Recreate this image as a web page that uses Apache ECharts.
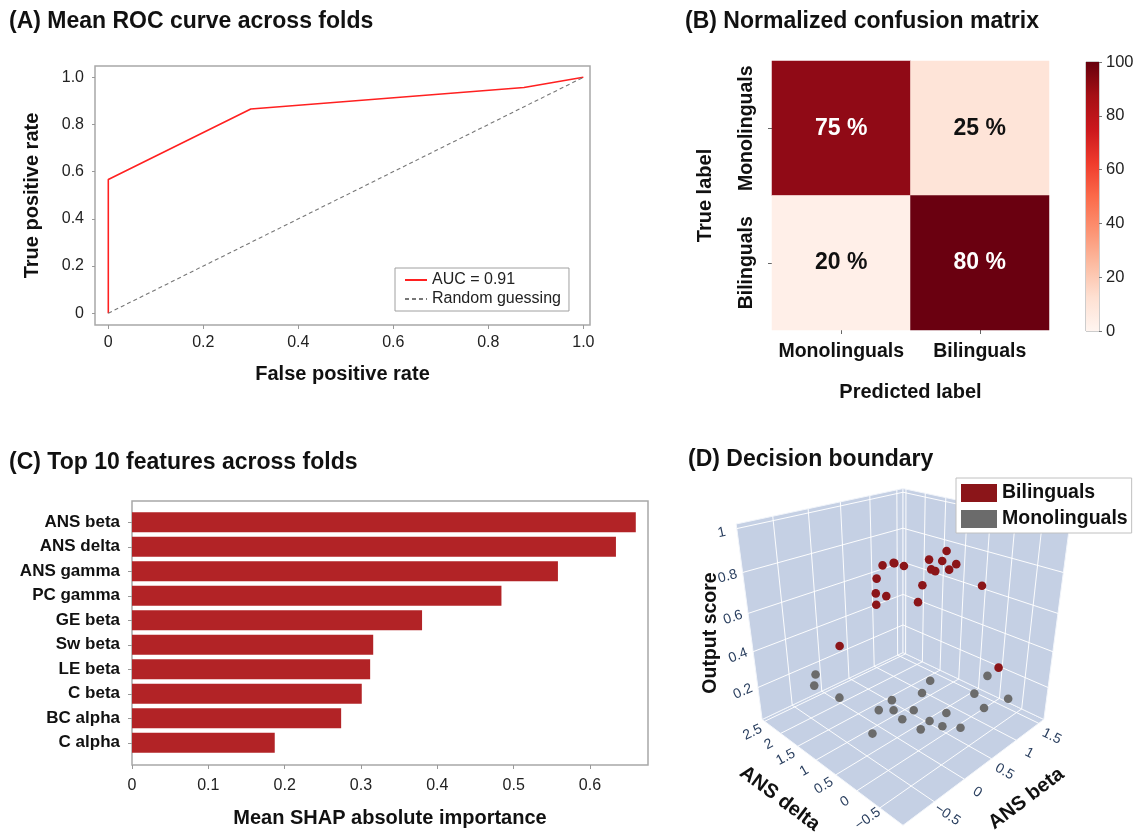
<!DOCTYPE html>
<html>
<head>
<meta charset="utf-8">
<script src="https://cdn.jsdelivr.net/npm/echarts/dist/echarts.min.js"></script>
<style>html,body{margin:0;padding:0;background:#fff}#chart{width:1135px;height:832px}</style>
</head>
<body>
<div id="chart"></div>
<script>
// ---------- (A) ROC ----------
const rocFpr = [0, 0, 0.3, 0.875, 1];
const rocTpr = [0, 0.567, 0.866, 0.957, 1];
const chanceFpr = [0, 1];
const chanceTpr = [0, 1];
const rocTicks = [0, 0.2, 0.4, 0.6, 0.8, 1.0];
// ---------- (B) Confusion matrix ----------
const cmPredicted = ['Monolinguals', 'Bilinguals'];
const cmTrue = ['Monolinguals', 'Bilinguals'];
const cmPercent = [[75, 25], [20, 80]];
const cbTicks = [0, 20, 40, 60, 80, 100];
// ---------- (C) SHAP ----------
const features = ['ANS beta', 'ANS delta', 'ANS gamma', 'PC gamma', 'GE beta', 'Sw beta', 'LE beta', 'C beta', 'BC alpha', 'C alpha'];
const shapImportance = [0.660, 0.634, 0.558, 0.484, 0.380, 0.316, 0.312, 0.301, 0.274, 0.187];
const shapTicks = [0, 0.1, 0.2, 0.3, 0.4, 0.5, 0.6];
// ---------- (D) Decision boundary ----------
const biBeta  = [0.08, -0.03, 0.22, 0.49, -0.02, -0.11, 0.13, -0.12, 0.43, 0.26, 0.59, 0.66, 0.67, 0.63, 0.62, 0.77, 0.69, 0.90, -0.43, 1.21];
const biDelta = [0.91, 0.51, 0.85, 1.01, 0.90, 0.79, 0.91, 0.77, 0.52, 0.39, 0.59, 0.40, 0.33, 0.59, 0.49, 0.38, 0.15, -0.15, 1.18, -0.30];
const biScore = [0.85, 0.90, 0.85, 0.80, 0.80, 0.75, 0.70, 0.70, 0.75, 0.70, 0.85, 0.85, 0.90, 0.80, 0.80, 0.80, 0.85, 0.75, 0.50, 0.30];
const moBeta  = [-0.26, -0.32, -0.27, 0.53, 0.40, 0.16, 0.02, 0.02, 0.33, 0.09, -0.48, 0.30, -0.03, 0.33, 0.43, 0.46, 0.85, 1.13, 0.84, 1.05];
const moDelta = [2.23, 2.18, 1.55, 0.43, 0.45, 0.85, 0.98, 0.61, 0.55, 0.50, 0.38, 0.14, -0.08, -0.11, -0.07, -0.35, -0.19, -0.16, -0.42, -0.69];
const moScore = [0.20, 0.15, 0.15, 0.25, 0.20, 0.15, 0.10, 0.15, 0.10, 0.10, 0.15, 0.10, 0.15, 0.10, 0.15, 0.10, 0.20, 0.25, 0.15, 0.20];
const betaTicks = [-0.5, 0, 0.5, 1, 1.5];
const deltaTicks = [-0.5, 0, 0.5, 1, 1.5, 2, 2.5];
const scoreTicks = [0.2, 0.4, 0.6, 0.8, 1];
const betaRange = [-0.97, 1.62];
const deltaRange = [-0.97, 2.58];
const scoreRange = [0.01, 1.02];

const FONT = "'Liberation Sans', Arial, sans-serif";
const INK = '#111';

// 3D view (camera) used to project the scene of panel D
const VIEW = {cx: 903, cy: 630, f: 561.6, dist: 2.6, sin: 0.439, cos: 0.8985};
function norm(val, range) { return (val - range[0]) / (range[1] - range[0]) - 0.5; }
function projN(u, v, w) {
  const k = Math.SQRT1_2, S = u + v, Dm = u - v;
  const depth = VIEW.dist + k * VIEW.cos * S - VIEW.sin * w;
  return [VIEW.cx + VIEW.f * k * Dm / depth, VIEW.cy - VIEW.f * (k * VIEW.sin * S + VIEW.cos * w) / depth, depth];
}
function proj3(b, d, z) { return projN(norm(b, betaRange), norm(d, deltaRange), norm(z, scoreRange)); }

function renderScene(params, api) {
  const kids = [];
  const P = (u, v, w) => projN(u, v, w);
  const wallStyle = {fill: '#c5d0e4', stroke: '#f2f5fa', lineWidth: 1};
  const face = pts => kids.push({type: 'polygon', shape: {points: pts.map(q => P(q[0], q[1], q[2]).slice(0, 2))}, style: wallStyle});
  face([[-.5, -.5, -.5], [.5, -.5, -.5], [.5, .5, -.5], [-.5, .5, -.5]]);
  face([[-.5, .5, -.5], [.5, .5, -.5], [.5, .5, .5], [-.5, .5, .5]]);
  face([[.5, -.5, -.5], [.5, .5, -.5], [.5, .5, .5], [.5, -.5, .5]]);
  const seg = (a, b) => {
    const p = P(a[0], a[1], a[2]), q = P(b[0], b[1], b[2]);
    kids.push({type: 'line', shape: {x1: p[0], y1: p[1], x2: q[0], y2: q[1]}, style: {stroke: '#ffffff', lineWidth: 1, opacity: 0.95}});
  };
  betaTicks.forEach(t => { const u = norm(t, betaRange); seg([u, -.5, -.5], [u, .5, -.5]); seg([u, .5, -.5], [u, .5, .5]); });
  deltaTicks.forEach(t => { const v = norm(t, deltaRange); seg([-.5, v, -.5], [.5, v, -.5]); seg([.5, v, -.5], [.5, v, .5]); });
  scoreTicks.forEach(t => { const w = norm(t, scoreRange); seg([-.5, .5, w], [.5, .5, w]); seg([.5, -.5, w], [.5, .5, w]); });
  const dirAngle = (a, b) => { const p = P(a[0], a[1], a[2]), q = P(b[0], b[1], b[2]); return Math.atan2(-(q[1] - p[1]), q[0] - p[0]); };
  const txt = (s, pt, dx, dy, rot, size, weight, color) => kids.push({
    type: 'text', x: pt[0] + dx, y: pt[1] + dy, rotation: rot,
    style: {text: s, fill: color, fontSize: size, fontWeight: weight, fontFamily: FONT, align: 'center', verticalAlign: 'middle'}
  });
  const fmt = t => t < 0 ? '\u2212' + Math.abs(t) : String(t);
  scoreTicks.forEach(t => { const w = norm(t, scoreRange); txt(fmt(t), P(-.5, .5, w), -15, 4, dirAngle([-.5, .5, w], [-.4, .5, w]), 14, 'normal', '#2a3f5f'); });
  deltaTicks.forEach(t => { const v = norm(t, deltaRange); txt(fmt(t), P(-.5, v, -.5), -12, 11, dirAngle([-.5, v, -.5], [-.4, v, -.5]), 14, 'normal', '#2a3f5f'); });
  betaTicks.forEach(t => { const u = norm(t, betaRange); txt(fmt(t), P(u, -.5, -.5), 13, 13, dirAngle([u, -.4, -.5], [u, -.5, -.5]), 14, 'normal', '#2a3f5f'); });
  txt('ANS delta', P(-.5, 0, -.5), -44, 33, dirAngle([-.5, .5, -.5], [-.5, -.5, -.5]), 20, 'bold', INK);
  txt('ANS beta', P(0, -.5, -.5), 44, 33, dirAngle([-.5, -.5, -.5], [.5, -.5, -.5]), 20, 'bold', INK);
  txt('Output score', P(-.5, .5, 0), -40, 3, Math.PI / 2, 19.5, 'bold', INK);
  return {type: 'group', children: kids};
}
function renderPoint(params, api) {
  const p = proj3(api.value(0), api.value(1), api.value(2));
  return {type: 'circle', shape: {cx: p[0], cy: p[1], r: 4.3}, style: {fill: api.visual('color')}, z2: Math.round((5 - p[2]) * 100)};
}

const chart = echarts.init(document.getElementById('chart'), null, {renderer: 'canvas'});
const titleStyle = {fontSize: 23, fontWeight: 'bold', color: INK, fontFamily: FONT};
const tickLabel = {fontSize: 16, color: '#222', fontFamily: FONT};
const nameStyle = {fontSize: 20, fontWeight: 'bold', color: INK, fontFamily: FONT};
const fmtTick = v => v === 0 ? '0' : v.toFixed(1);
const noLine = {show: false, onZero: false};

const option = {
  animation: false,
  textStyle: {fontFamily: FONT},
  title: [
    {text: '(A) Mean ROC curve across folds', left: 9, top: 10, padding: 0, textStyle: titleStyle},
    {text: '(B) Normalized confusion matrix', left: 685, top: 10, padding: 0, textStyle: titleStyle},
    {text: '(C) Top 10 features across folds', left: 9, top: 451, padding: 0, textStyle: titleStyle},
    {text: '(D) Decision boundary', left: 688, top: 448, padding: 0, textStyle: titleStyle}
  ],
  legend: [
    {data: ['AUC = 0.91', 'Random guessing'], left: 395, top: 268, orient: 'vertical', itemWidth: 22, itemHeight: 12,
     itemGap: 3, padding: [4, 8, 4, 9], borderColor: '#a0a0a0', borderWidth: 1, backgroundColor: '#fff',
     itemStyle: {opacity: 0, borderWidth: 0},
     textStyle: {fontSize: 16, color: '#222'}, selectedMode: false},
    {data: ['Bilinguals', 'Monolinguals'], left: 956, top: 478, orient: 'vertical', icon: 'rect', itemWidth: 36, itemHeight: 18,
     itemGap: 6, padding: [5, 4, 4, 5], borderColor: '#c0c0c0', borderWidth: 1, backgroundColor: '#fff',
     textStyle: {fontSize: 19.5, fontWeight: 'bold', color: INK}, selectedMode: false}
  ],
  grid: [
    {left: 95, top: 66, width: 495, height: 259, show: true, borderColor: '#a8a8a8', borderWidth: 1.5, outerBoundsMode: 'none'},
    {left: 772, top: 61, width: 277, height: 269, outerBoundsMode: 'none'},
    {left: 1086, top: 62, width: 13, height: 269, show: true, borderColor: '#9a9a9a', borderWidth: 1, outerBoundsMode: 'none'},
    {left: 132, top: 501, width: 516, height: 264, show: true, borderColor: '#a8a8a8', borderWidth: 1.5, outerBoundsMode: 'none'},
    {left: 132, top: 510, width: 516, height: 245, outerBoundsMode: 'none'}
  ],
  xAxis: [
    {gridIndex: 0, type: 'value', min: -0.028, max: 1.014, axisLine: noLine, splitLine: {show: false},
     axisTick: {show: true, length: 4, lineStyle: {color: '#999'}, customValues: rocTicks},
     axisLabel: Object.assign({customValues: rocTicks, formatter: fmtTick, margin: 10}, tickLabel),
     name: 'False positive rate', nameLocation: 'middle', nameGap: 39, nameTextStyle: nameStyle},
    {gridIndex: 1, type: 'category', data: cmPredicted, axisLine: noLine, splitLine: {show: false},
     axisTick: {show: true, alignWithLabel: true, length: 4, lineStyle: {color: '#666'}},
     axisLabel: {interval: 0, fontSize: 19.5, fontWeight: 'bold', color: INK, margin: 12},
     name: 'Predicted label', nameLocation: 'middle', nameGap: 52, nameTextStyle: nameStyle},
    {gridIndex: 2, type: 'category', data: [''], show: false},
    {gridIndex: 3, type: 'value', min: 0, max: 0.676, axisLine: noLine, splitLine: {show: false},
     axisTick: {show: true, length: 4, lineStyle: {color: '#999'}, customValues: shapTicks},
     axisLabel: Object.assign({customValues: shapTicks, formatter: v => v === 0 ? '0' : String(v), margin: 13}, tickLabel),
     name: 'Mean SHAP absolute importance', nameLocation: 'middle', nameGap: 43, nameTextStyle: nameStyle},
    {gridIndex: 4, type: 'value', min: 0, max: 0.676, show: false}
  ],
  yAxis: [
    {gridIndex: 0, type: 'value', min: -0.05, max: 1.048, axisLine: noLine, splitLine: {show: false},
     axisTick: {show: true, length: 3, lineStyle: {color: '#999'}, customValues: rocTicks},
     axisLabel: Object.assign({customValues: rocTicks, formatter: fmtTick, margin: 11}, tickLabel),
     name: 'True positive rate', nameLocation: 'middle', nameGap: 53, nameTextStyle: nameStyle},
    {gridIndex: 1, type: 'category', data: cmTrue, inverse: true, axisLine: noLine, splitLine: {show: false},
     axisTick: {show: true, alignWithLabel: true, length: 4, lineStyle: {color: '#666'}},
     axisLabel: {interval: 0, fontSize: 19.5, fontWeight: 'bold', color: INK, rotate: 90, margin: 15},
     name: 'True label', nameLocation: 'middle', nameGap: 57, nameTextStyle: nameStyle},
    {gridIndex: 2, type: 'value', min: 0, max: 100, interval: 20, position: 'right', axisLine: noLine, splitLine: {show: false},
     axisTick: {show: true, length: 3, lineStyle: {color: '#777'}},
     axisLabel: Object.assign({margin: 7}, tickLabel, {fontSize: 16.5})},
    {gridIndex: 3, type: 'value', show: false, min: 0, max: 1},
    {gridIndex: 4, type: 'category', data: features, inverse: true, axisLine: noLine, splitLine: {show: false},
     axisTick: {show: true, alignWithLabel: true, length: 4, lineStyle: {color: '#999'}},
     axisLabel: {interval: 0, fontSize: 17, fontWeight: 'bold', color: INK, margin: 12}}
  ],
  visualMap: [
    {type: 'continuous', show: false, seriesIndex: 2, min: 0, max: 100,
     inRange: {color: ['#fff5f0', '#fff2ed', '#ffefe8', '#fcd9c8', '#fcaf93', '#fb8060', '#f14432', '#b5131b', '#6a0010', '#67000d', '#67000d']}}
  ],
  series: [
    {name: 'AUC = 0.91', type: 'line', xAxisIndex: 0, yAxisIndex: 0, symbol: 'none',
     data: rocFpr.map((x, i) => [x, rocTpr[i]]), lineStyle: {color: '#ff2020', width: 1.6}, itemStyle: {color: '#ff2020'}},
    {name: 'Random guessing', type: 'line', xAxisIndex: 0, yAxisIndex: 0, symbol: 'none',
     data: chanceFpr.map((x, i) => [x, chanceTpr[i]]), lineStyle: {color: '#777', width: 1.1, type: [4, 3]}, itemStyle: {color: '#777'}},
    {type: 'heatmap', xAxisIndex: 1, yAxisIndex: 1,
     data: cmTrue.flatMap((t, r) => cmPredicted.map((p, c) => [c, r, cmPercent[r][c]])),
     label: {show: true, formatter: p => (p.value[2] > 50 ? '{w|' : '{k|') + p.value[2] + ' %}',
             rich: {w: {color: '#fff', fontSize: 23, fontWeight: 'bold'}, k: {color: INK, fontSize: 23, fontWeight: 'bold'}}},
     emphasis: {disabled: true}},
    {type: 'bar', xAxisIndex: 2, yAxisIndex: 2, data: [cbTicks[cbTicks.length - 1]], barWidth: '100%', silent: true,
     itemStyle: {color: new echarts.graphic.LinearGradient(0, 1, 0, 0, [
       {offset: 0, color: '#fff5f0'}, {offset: 0.125, color: '#fee0d2'}, {offset: 0.25, color: '#fcbba1'},
       {offset: 0.375, color: '#fc9272'}, {offset: 0.5, color: '#fb6a4a'}, {offset: 0.625, color: '#ef3b2c'},
       {offset: 0.75, color: '#cb181d'}, {offset: 0.875, color: '#a50f15'}, {offset: 1, color: '#67000d'}])}},
    {type: 'bar', xAxisIndex: 4, yAxisIndex: 4, data: shapImportance, barWidth: 20, itemStyle: {color: '#b22326'}},
    {type: 'custom', coordinateSystem: 'none', renderItem: renderScene, data: [[0]], silent: true, z: 1},
    {name: 'Bilinguals', type: 'custom', coordinateSystem: 'none', renderItem: renderPoint, z: 3,
     itemStyle: {color: '#8b1519'}, data: biBeta.map((b, i) => [b, biDelta[i], biScore[i]])},
    {name: 'Monolinguals', type: 'custom', coordinateSystem: 'none', renderItem: renderPoint, z: 3,
     itemStyle: {color: '#6b6b6b'}, data: moBeta.map((b, i) => [b, moDelta[i], moScore[i]])}
  ]
};
chart.setOption(option);
</script>
</body>
</html>
